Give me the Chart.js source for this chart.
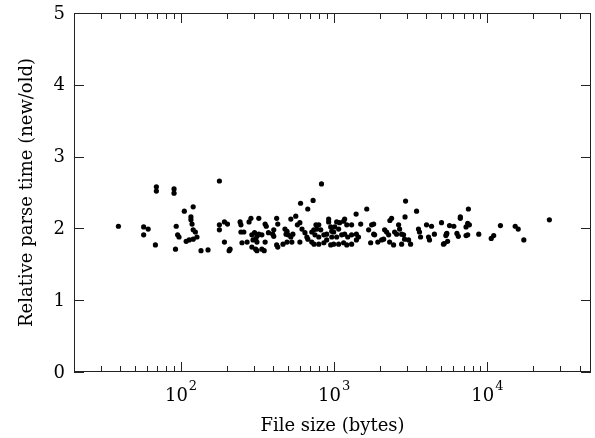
<!DOCTYPE html>
<html>
<head>
<meta charset="utf-8">
<script src="https://cdn.jsdelivr.net/npm/chart.js@4/dist/chart.umd.min.js"></script>
<style>
  html, body { margin: 0; padding: 0; background: #fff; }
  #wrap { width: 595px; height: 438px; }
</style>
</head>
<body>
<div id="wrap"><canvas id="parseChart" width="595" height="438"></canvas></div>
<script>
// file sizes in bytes (x) and relative parse time new/old (y)
const fileSizes = [
  39, 69, 69, 90, 90, 178, 57, 61, 57, 68, 93, 95, 97, 92, 105, 120, 116, 116, 118, 120,
  124, 108, 113, 120, 127, 135, 150, 178, 178, 192, 201, 192, 209, 206, 243, 246, 246, 257, 250, 270,
  286, 278, 322, 290, 302, 313, 322, 337, 295, 307, 313, 290, 307, 313, 337, 349, 354, 360, 354, 372,
  397, 403, 403, 421, 428, 421, 428, 521, 561, 575, 597, 477, 492, 485, 500, 463, 492, 529, 597, 521,
  537, 616, 644, 663, 714, 736, 673, 760, 793, 770, 817, 749, 793, 856, 893, 920, 920, 949, 964, 738,
  793, 856, 893, 964, 949, 714, 826, 603, 728, 672,
  1038, 1085, 1170, 1152, 1008, 1069, 992, 1208, 1299, 1038, 1119, 1170, 1226, 1299, 1396, 1440, 992, 1069, 1152, 1208,
  1299, 1396, 1489, 1756, 1810, 1678, 1810, 1836, 1730, 1926, 2040, 2102, 2134, 2200, 2267, 2301, 2442, 2480, 2555, 2633,
  2673, 2755, 2838, 2881, 2755, 3060, 3153, 3550, 3605, 3663, 4007, 4320, 4130, 4190, 4510, 5170, 5400, 2924, 1631, 1390,
  3450, 2900, 2370, 2310, 5020,
  7520, 6660, 6660, 5660, 6040, 7440, 7630, 7260, 5440, 5360, 6330, 6460, 7260, 7440, 5500, 5230, 8790, 11000, 10600, 12170,
  15200, 15900, 17300, 25400
];
const parseTimes = [
  2.03, 2.58, 2.52, 2.55, 2.49, 2.66, 2.02, 1.99, 1.91, 1.77, 2.03, 1.91, 1.88, 1.71, 2.24, 2.30, 2.16, 2.12, 2.06, 1.98,
  1.95, 1.82, 1.84, 1.85, 1.88, 1.69, 1.70, 2.05, 1.98, 2.09, 2.06, 1.81, 1.71, 1.69, 2.09, 2.05, 1.95, 1.95, 1.80, 1.81,
  2.14, 2.09, 2.14, 1.91, 1.94, 1.89, 1.92, 1.91, 1.84, 1.85, 1.81, 1.74, 1.71, 1.69, 1.71, 1.69, 2.06, 2.03, 1.81, 1.94,
  1.92, 1.98, 1.89, 2.14, 2.06, 1.77, 1.74, 2.13, 2.17, 2.05, 2.08, 1.99, 1.96, 1.92, 1.91, 1.78, 1.81, 1.81, 1.81, 1.88,
  1.92, 1.99, 1.94, 1.88, 1.95, 1.98, 1.85, 2.05, 2.05, 1.99, 1.98, 1.91, 1.88, 1.91, 1.92, 2.13, 2.09, 2.02, 1.96, 1.78,
  1.78, 1.80, 1.84, 1.88, 1.77, 1.81, 2.62, 2.35, 2.39, 2.27,
  2.09, 2.08, 2.13, 2.10, 2.02, 1.99, 1.95, 2.05, 2.05, 1.88, 1.91, 1.92, 1.88, 1.91, 1.92, 1.88, 1.78, 1.78, 1.80, 1.77,
  1.78, 1.84, 2.06, 2.05, 2.06, 1.98, 1.92, 1.91, 1.80, 1.81, 1.84, 1.85, 1.98, 1.95, 1.91, 1.81, 1.77, 1.95, 1.92, 2.05,
  1.99, 1.92, 1.91, 1.85, 1.78, 1.84, 1.78, 1.99, 1.95, 1.88, 2.05, 2.03, 1.88, 1.84, 1.92, 1.78, 1.92, 2.38, 2.27, 2.20,
  2.24, 2.16, 2.14, 2.11, 2.08,
  2.27, 2.16, 2.14, 2.04, 2.03, 2.07, 2.05, 2.02, 1.93, 1.90, 1.93, 1.89, 1.90, 1.91, 1.82, 1.79, 1.92, 1.90, 1.86, 2.04,
  2.03, 1.99, 1.84, 2.12
];

const yTicks = [0, 1, 2, 3, 4, 5];
const xDecades = [100, 1000, 10000];
const xExponents = ['2', '3', '4'];

const FONT = '"DejaVu Serif", "Liberation Serif", serif';

// frame, inward ticks on all four sides, tick labels and axis titles
const framePlugin = {
  id: 'framePlugin',
  afterDatasetsDraw(chart) {
    const { ctx, chartArea: a, scales: { x, y } } = chart;
    ctx.save();
    ctx.strokeStyle = '#222';
    ctx.lineWidth = 1;
    ctx.strokeRect(a.left + 0.5, a.top + 0.5, a.right - a.left - 1, a.bottom - a.top - 1);

    ctx.beginPath();
    yTicks.forEach(v => {
      const py = Math.round(y.getPixelForValue(v)) + 0.5;
      ctx.moveTo(a.left, py); ctx.lineTo(a.left + 10, py);
      ctx.moveTo(a.right, py); ctx.lineTo(a.right - 10, py);
    });
    // log minor ticks
    for (let d = 10; d <= 10000; d *= 10) {
      for (let m = 1; m <= 9; m++) {
        const v = d * m;
        if (v < x.min || v > x.max) continue;
        const len = m === 1 ? 10 : 6;
        const px = Math.round(x.getPixelForValue(v)) + 0.5;
        ctx.moveTo(px, a.bottom); ctx.lineTo(px, a.bottom - len);
        ctx.moveTo(px, a.top); ctx.lineTo(px, a.top + len);
      }
    }
    ctx.stroke();

    ctx.fillStyle = '#000';
    ctx.font = '18px ' + FONT;
    ctx.textAlign = 'right';
    ctx.textBaseline = 'middle';
    yTicks.forEach(v => ctx.fillText(String(v), a.left - 9, y.getPixelForValue(v) + 1));

    ctx.textAlign = 'left';
    ctx.textBaseline = 'alphabetic';
    xDecades.forEach((v, i) => {
      ctx.font = '18px ' + FONT;
      const w1 = ctx.measureText('10').width;
      ctx.font = '13px ' + FONT;
      const w2 = ctx.measureText(xExponents[i]).width;
      const start = x.getPixelForValue(v) - (w1 + w2 + 1) / 2;
      ctx.font = '18px ' + FONT;
      ctx.fillText('10', start, 401);
      ctx.font = '13px ' + FONT;
      ctx.fillText(xExponents[i], start + w1 + 1, 390);
    });

    ctx.font = '18px ' + FONT;
    ctx.textAlign = 'center';
    ctx.fillText('File size (bytes)', (a.left + a.right) / 2, 431);

    ctx.translate(32, (a.top + a.bottom) / 2);
    ctx.rotate(-Math.PI / 2);
    ctx.fillText('Relative parse time (new/old)', 0, 0);
    ctx.restore();
  }
};

new Chart(document.getElementById('parseChart'), {
  type: 'scatter',
  data: {
    datasets: [{
      data: fileSizes.map((s, i) => ({ x: s, y: parseTimes[i] })),
      backgroundColor: '#000',
      borderWidth: 0,
      pointRadius: 2.6
    }]
  },
  options: {
    responsive: false,
    animation: false,
    layout: { padding: { left: 74, right: 4, top: 13, bottom: 66 } },
    plugins: { legend: { display: false }, tooltip: { enabled: false } },
    scales: {
      x: { type: 'logarithmic', min: 20, max: 47500, display: false },
      y: { type: 'linear', min: 0, max: 5, display: false }
    }
  },
  plugins: [framePlugin]
});
</script>
</body>
</html>
